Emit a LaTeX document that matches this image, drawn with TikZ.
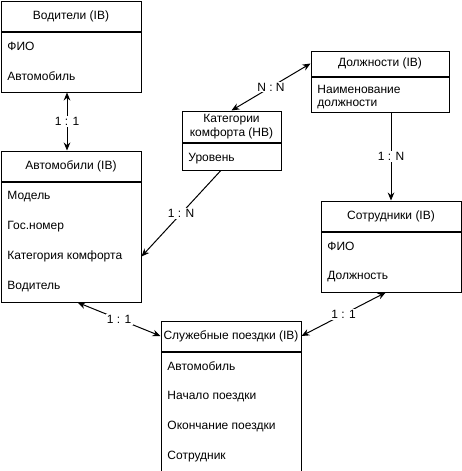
\documentclass[tikz,border=0pt]{standalone}
\usepackage{fontspec}
\setmainfont{Liberation Sans}
\usetikzlibrary{arrows.meta,positioning}
\tikzset{
  ent/.style={draw, line width=0.75pt, inner sep=0pt, font=\fontsize{9}{11}\selectfont, align=center},
  hdr/.style={ent, anchor=north west, minimum width=105pt, minimum height=22.5pt},
  ebody/.style={ent, anchor=north, minimum width=105pt},
  attr/.style={anchor=west, inner sep=0pt, font=\fontsize{9}{11}\selectfont},
  rel/.style={line width=0.75pt},
  card/.style={fill=white, inner sep=1pt, font=\fontsize{9}{11}\selectfont},
}
\begin{document}
\begin{tikzpicture}[x=0.75pt,y=-0.75pt,>={Stealth[length=6pt,width=5pt]}]
\useasboundingbox (0,0) rectangle (461,471);
% Водители
\node[hdr] (drv) at (0.5,0.5) {Водители (IB)};
\node[ebody, minimum height=45pt] (drvb) at (drv.south) {};
\foreach \t [count=\i] in {ФИО, Автомобиль}
  \node[attr] (drv\i) at ([xshift=5pt,yshift={-11.25pt-22.5pt*(\i-1)}]drvb.north west) {\t};
% Автомобили
\node[hdr] (car) at (0.5,150.5) {Автомобили (IB)};
\node[ebody, minimum height=90pt] (carb) at (car.south) {};
\foreach \t [count=\i] in {Модель, Гос.номер, Категория комфорта, Водитель}
  \node[attr] (car\i) at ([xshift=5pt,yshift={-11.25pt-22.5pt*(\i-1)}]carb.north west) {\t};
% Должности
\node[hdr, minimum width=103.5pt, minimum height=18.75pt] (pos) at (310.5,50.5) {Должности (IB)};
\node[ebody, minimum width=103.5pt, minimum height=26.25pt] (posb) at (pos.south) {};
\node[attr, align=left, font=\fontsize{9}{10}\selectfont] (pos1) at ([xshift=5pt,yshift=-2pt]posb.west) {Наименование\\должности};
% Категории комфорта
\node[hdr, minimum width=74.25pt, minimum height=23.25pt] (cat) at (181.5,110.5) {Категории\\комфорта (НВ)};
\node[ebody, minimum width=74.25pt, minimum height=20.25pt] (catb) at (cat.south) {};
\node[attr] (cat1) at ([xshift=5pt,yshift=-1.5pt]catb.west) {Уровень};
% Сотрудники
\node[hdr] (emp) at (320.5,200.5) {Сотрудники (IB)};
\node[ebody, minimum height=45pt] (empb) at (emp.south) {};
\foreach \t [count=\i] in {ФИО, Должность}
  \node[attr] (emp\i) at ([xshift=5pt,yshift={-11.25pt-22.5pt*(\i-1)}]empb.north west) {\t};
% Служебные поездки
\node[hdr] (trip) at (160.5,320.5) {Служебные поездки (IB)};
\node[ebody, minimum height=90pt] (tripb) at (trip.south) {};
\foreach \t [count=\i] in {Автомобиль, Начало поездки, Окончание поездки, Сотрудник}
  \node[attr] (trip\i) at ([xshift=5pt,yshift={-11.25pt-22.5pt*(\i-1)}]tripb.north west) {\t};
% связи
\draw[rel, <->] ([xshift=-3pt]drvb.south) -- node[card] {1 : 1} ([xshift=-3pt]car.north);
\draw[rel, <->] (cat.north) -- node[card] {N : N} (pos.west);
\draw[rel, ->] (posb.south -| emp.north) -- node[card] {1 : N} (emp.north);
\draw[rel, ->] ([xshift=-8pt]catb.south) -- node[card] {1 : N} (carb.east |- car3);
\draw[rel, <->] ([xshift=5pt]carb.south) -- node[card] {1 : 1} (trip.west);
\draw[rel, <->] ([xshift=-4pt]empb.south) -- node[card] {1 : 1} (trip.east);
\end{tikzpicture}
\end{document}
